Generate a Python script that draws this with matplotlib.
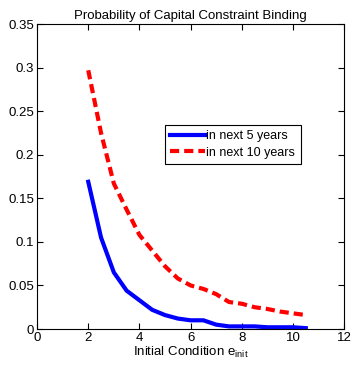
import matplotlib
matplotlib.use("Agg")
from matplotlib import pyplot as plt

plt.rcParams['font.family'] = ['Liberation Sans', 'DejaVu Sans']
plt.rcParams['mathtext.fontset'] = 'custom'
plt.rcParams['mathtext.rm'] = 'Liberation Sans'

# data
e_init = [2, 2.5, 3, 3.5, 4, 4.5, 5, 5.5, 6, 6.5, 7, 7.5, 8, 8.5, 9, 9.5, 10, 10.5]
p5 = [0.169, 0.105, 0.065, 0.044, 0.033, 0.022, 0.016, 0.012, 0.010, 0.010,
      0.005, 0.003, 0.003, 0.003, 0.002, 0.002, 0.002, 0.001]
p10 = [0.297, 0.225, 0.167, 0.137, 0.108, 0.090, 0.072, 0.058, 0.050, 0.046,
       0.040, 0.031, 0.029, 0.025, 0.023, 0.020, 0.018, 0.016]
xticks = [0, 2, 4, 6, 8, 10, 12]
yticks = [0, 0.05, 0.1, 0.15, 0.2, 0.25, 0.3, 0.35]
yticklabels = ['0', '0.05', '0.1', '0.15', '0.2', '0.25', '0.3', '0.35']

fig = plt.figure(figsize=(3.53, 3.65), dpi=100)
ax = fig.add_axes([0.105, 0.0986, 0.87, 0.8354])

ax.plot(e_init, p5, color='#0000ff', lw=3, label='in next 5 years')
ax.plot(e_init, p10, color='#ff0000', lw=3, ls=(0, (2.2, 1.2)), label='in next 10 years')

ax.set_xlim(0, 12)
ax.set_ylim(0, 0.35)
ax.set_xticks(xticks)
ax.set_yticks(yticks)
ax.set_yticklabels(yticklabels)
ax.tick_params(direction='in', top=True, right=True, labelsize=9.5, length=4, pad=2)
for s in ax.spines.values():
    s.set_linewidth(0.8)

ax.set_title('Probability of Capital Constraint Binding', fontsize=9.5, pad=4)
ax.set_xlabel('Initial Condition $\\mathrm{e}_{\\mathrm{init}}$', fontsize=9.5, labelpad=1)

leg = ax.legend(loc='upper left', bbox_to_anchor=(0.415, 0.67), fontsize=9,
                frameon=True, fancybox=False, edgecolor='black', framealpha=1,
                handlelength=2.8, handletextpad=0.1, borderpad=0.45,
                labelspacing=0.35, borderaxespad=0)
leg.get_frame().set_linewidth(0.8)

fig.savefig('out.png', dpi=100)
